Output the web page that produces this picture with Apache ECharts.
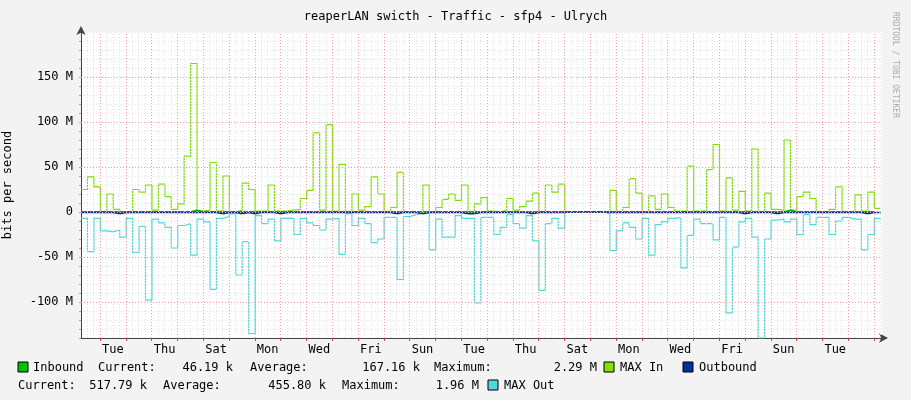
<!DOCTYPE html>
<html><head><meta charset="utf-8">
<script src="https://cdn.jsdelivr.net/npm/echarts@6/dist/echarts.min.js"></script>
<style>html,body{margin:0;padding:0;background:#f3f3f3}#c{width:911px;height:400px}</style>
</head><body><div id="c"></div>
<script>
// slot i covers hours [START + 6i, START + 6i + 6)
const START = 6.3;
const STEP = 6;
const dayNames = ['Mon','Tue','Wed','Thu','Fri','Sat','Sun'];
// MAX In, Mbit/s
const maxIn = [25,39,28,0,20,3,0,0,25,22,30,2,31,17,3,9,62,165,1,2,55,1,40,0,2,32,25,1,1,30,1,1,2,3,15,24,88,2,97,1,53,0,20,2,6,39,20,0,5,44,0.5,0.5,0,30,0,5,14,
20,13,30,0,9,16,1,0,2,15,2,6,12,21,0,30,22,31,0,0,0,0,0,0,0.5,24,0,5,37,21,0,18,3,20,5,1,1,51,1,1,47,75,1,38,2,23,1,70,0,21,3,2,80,2,17,22,15,0,0,3,28,0,1,19,1,22,4];
// MAX Out, Mbit/s (drawn negative)
const maxOut = [-7,-44,-7,-21,-22,-20,-28,-7,-45,-16,-98,-8,-12,-17,-40,-15,-13,-48,-8,-11,-86,-7,-5,-2,-70,-33,-135,-4,-13,-8,-32,-7,-7,-25,-7,-12,-15,-20,-8,-7,-47,-2,-15,-7,-13,-34,-30,-6,-6,-75,-5,-3,-1,-1,-42,-8,-28,
-28,-4,-7,-7,-101,-6,-6,-25,-17,-3,-13,-18,-4,-32,-87,-13,-7,-18,0,0,0,0,0,0,-2,-43,-21,-12,-17,-30,-7,-48,-14,-11,-7,-6,-62,-26,-8,-13,-13,-31,-6,-112,-39,-11,-7,-28,-140,-30,-9,-8,-11,-8,-25,-3,-14,-6,-6,-25,-10,-6,-8,-8,-42,-25,-7];
// Inbound average, Mbit/s
const inbound = [0.2,0.2,0.2,0.2,0.2,0.2,0.2,0.2,0.2,0.2,0.2,0.2,0.2,0.2,0.2,0.2,0.3,2,0.2,0.2,0.2,0.2,0.2,0.2,0.2,0.2,0.2,0.2,0.2,0.2,0.2,0.2,0.2,0.2,0.2,0.2,0.2,0.2,0.2,0.2,0.2,0.2,0.2,0.2,0.2,0.2,0.2,0.2,0.2,0.2,0.2,0.2,0.2,0.2,0.2,0.2,0.2,
0.2,0.2,0.2,0.2,0.2,0.2,0.2,0.2,0.2,0.2,0.2,0.2,0.2,0.2,0.2,0.2,0.2,0.2,0,0,0,0,0,0,0.2,0.2,0.2,0.2,0.2,0.2,0.2,0.2,0.2,0.2,0.2,0.2,0.2,0.2,0.2,0.2,0.2,0.2,0.2,0.2,0.2,0.2,0.2,0.2,0.2,0.2,0.2,0.2,2,0.2,0.2,0.2,0.2,0.2,0.2,0.2,0.2,0.2,0.2,0.2,0.2,0.2];
// Outbound average, Mbit/s (drawn negative)
const outbound = [-0.5,-0.5,-0.5,-0.5,-0.5,-2,-0.5,-0.5,-0.5,-0.5,-0.5,-0.5,-0.5,-0.5,-0.5,-0.5,-0.5,-0.5,-0.5,-0.5,-0.5,-2,-0.5,-0.5,-2,-0.5,-2,-0.5,-0.5,-0.5,-2,-0.5,-0.5,-0.5,-0.5,-0.5,-0.5,-0.5,-0.5,-0.5,-0.5,-0.5,-0.5,-0.5,-0.5,-0.5,-0.5,-0.5,-2,-0.5,-0.5,-0.5,-2,-0.5,-0.5,-0.5,-0.5,
-0.5,-0.5,-2,-2,-0.5,-0.5,-0.5,-0.5,-0.5,-0.5,-0.5,-0.5,-2,-0.5,-0.5,-0.5,-0.5,-0.5,0,0,0,0,0,0,-0.5,-0.5,-0.5,-0.5,-0.5,-0.5,-0.5,-0.5,-0.5,-0.5,-0.5,-0.5,-0.5,-0.5,-0.5,-0.5,-0.5,-0.5,-0.5,-0.5,-0.5,-2,-0.5,-0.5,-0.5,-0.5,-2,-0.5,-0.5,-0.5,-0.5,-0.5,-0.5,-0.5,-0.5,-0.5,-0.5,-0.5,-0.5,-0.5,-2,-0.5,-0.5];
const yLabels = [-100,-50,0,50,100,150];

function pts(arr){
  const out = arr.map((v,i)=>[START+STEP*i, v*1e6]);
  out.push([START+STEP*arr.length, arr[arr.length-1]*1e6]);
  return out;
}
const XMIN = START, XMAX = 751.5;
const redX=[], grayX=[];
for(let h=0; h<=XMAX; h+=6){ if(h<XMIN) continue; (h%24===0?redX:grayX).push(h); }
const labelX=[]; for(let h=36; h<XMAX; h+=48) labelX.push(h);
const mono = 'DejaVu Sans Mono';
const chart = echarts.init(document.getElementById('c'));
const vline = (x,c)=>({xAxis:x, lineStyle:{color:c,type:[1,2],width:1}});
const hline = (y,c)=>({yAxis:y, lineStyle:{color:c,type:[1,2],width:1}});
chart.setOption({
  backgroundColor:'#f3f3f3',
  animation:false,
  title:{text:'reaperLAN swicth - Traffic - sfp4 - Ulrych',left:'center',top:6,textStyle:{fontFamily:mono,fontSize:12,fontWeight:'normal',color:'#000'}},
  grid:{left:81,right:29,top:32,bottom:62,backgroundColor:'#fff',show:true,borderWidth:0,containLabel:false,outerBoundsMode:'none'},
  xAxis:{type:'value',min:XMIN,max:XMAX,
    axisLine:{show:true,onZero:false,lineStyle:{color:'#444'},symbol:['none','arrow'],symbolSize:[7,9],symbolOffset:[0,6]},
    axisTick:{show:true,customValues:redX,length:3,inside:false,lineStyle:{color:'#e04040'}},
    axisLabel:{customValues:labelX,formatter:v=>dayNames[Math.floor(v/24)%7],fontFamily:mono,fontSize:12,color:'#000',margin:6},
    splitLine:{show:false}},
  yAxis:{type:'value',min:-140e6,max:200e6,interval:10e6,
    name:'bits per second',nameLocation:'middle',nameGap:67,nameTextStyle:{fontFamily:mono,fontSize:12,color:'#000'},
    axisLine:{show:true,onZero:false,lineStyle:{color:'#444'},symbol:['none','arrow'],symbolSize:[7,9],symbolOffset:[0,6]},
    axisTick:{show:true,length:2,lineStyle:{color:'#aaa'}},
    axisLabel:{formatter:v=>{const m=Math.round(v/1e6);if(m===0)return '0';return (m%50===0&&m<200)?m+' M':'';},fontFamily:mono,fontSize:12,color:'#000',margin:8},
    splitLine:{show:true,lineStyle:{color:'#e2e2e2',type:[1,2]}}},
  series:[
    {type:'line',data:[],silent:true,markLine:{silent:true,symbol:'none',label:{show:false},animation:false,
      data:[...grayX.map(x=>vline(x,'#e2e2e2')),...redX.map(x=>vline(x,'#f4a0a0')),...yLabels.map(y=>hline(y*1e6,'#f4a0a0'))]}},
    {name:'MAX Out',type:'line',step:'end',data:pts(maxOut),symbol:'none',lineStyle:{color:'#50D8D8',width:1.2}},
    {name:'MAX In',type:'line',step:'end',data:pts(maxIn),symbol:'none',lineStyle:{color:'#7FE000',width:1.2}},
    {name:'Inbound',type:'line',step:'end',data:pts(inbound),symbol:'none',lineStyle:{color:'#00B000',width:1.5},areaStyle:{color:'#00C000',opacity:1}},
    {name:'Outbound',type:'line',step:'end',data:pts(outbound),symbol:'none',lineStyle:{color:'#0030A0',width:1.5},areaStyle:{color:'#0030A0',opacity:1}}
  ],
  graphic:[
    {type:'text',rotation:-Math.PI/2,style:{text:'RRDTOOL / TOBI OETIKER',font:'8px DejaVu Sans Mono',fill:'#aaa'},x:899,y:12},
    ...[
      [18,362,'#00C000'],[604,362,'#88E000'],[683,362,'#0030A0'],[488,380,'#50D8D8']
    ].map(([x,y,c])=>({type:'rect',shape:{x:x,y:y,width:10,height:10},style:{fill:c,stroke:'#000',lineWidth:1}})),
    ...[
      [33,368,'Inbound','left'],[98,368,'Current:','left'],[233,368,'46.19 k','right'],[250,368,'Average:','left'],[420,368,'167.16 k','right'],[434,368,'Maximum:','left'],[597,368,'2.29 M','right'],[620,368,'MAX In','left'],[699,368,'Outbound','left'],
      [18,386,'Current:','left'],[147,386,'517.79 k','right'],[163,386,'Average:','left'],[326,386,'455.80 k','right'],[342,386,'Maximum:','left'],[479,386,'1.96 M','right'],[504,386,'MAX Out','left']
    ].map(([x,y,t,a])=>({type:'text',x:x,y:y,style:{text:t,font:'12px DejaVu Sans Mono',fill:'#000',align:a,verticalAlign:'middle'}}))
  ]
});
</script></body></html>
